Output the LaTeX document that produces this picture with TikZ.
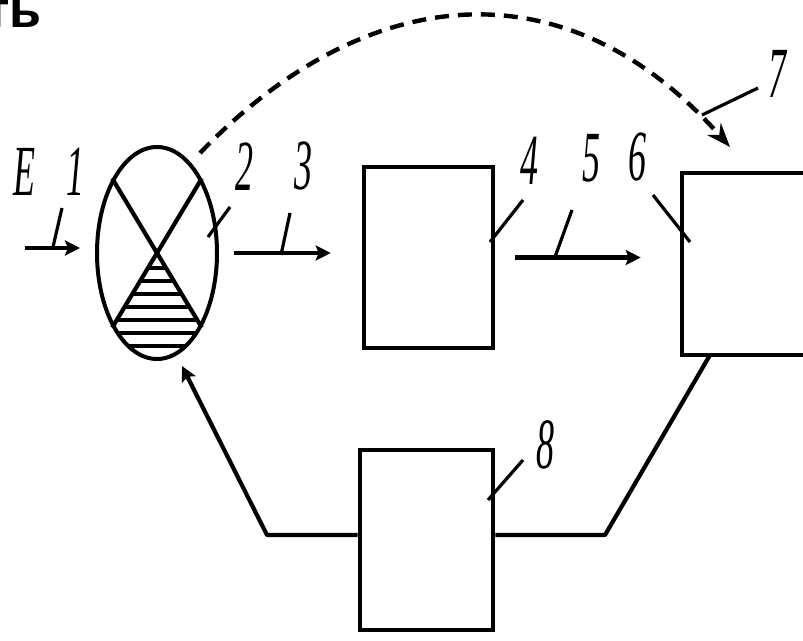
\documentclass[tikz,border=0pt]{standalone}
\usepackage{fontspec}
\usepackage{graphicx}
\setmainfont{Liberation Serif}
\newfontfamily\hdfont{Liberation Sans}
\usetikzlibrary{shapes.geometric,arrows.meta}
\tikzset{
  blk/.style={draw, line width=4.6pt, inner sep=0pt},
  conn/.style={line width=4.2pt, -{Stealth[length=15pt,width=15pt,inset=3pt]}},
  wire/.style={line width=4.2pt},
  lead/.style={line width=3.2pt},
  lbl/.style={inner sep=0pt, font=\fontsize{72}{72}\selectfont\itshape},
  dsh/.style={line width=4.4pt, dash pattern=on 14pt off 9pt, -{Stealth[length=24pt,width=18pt]}},
}
\newcommand\nmb[1]{\scalebox{0.5}[1]{#1}}
\begin{document}
\begin{tikzpicture}[x=1pt,y=-1pt]
\useasboundingbox (0,0) rectangle (803,640);
\clip (0,0) rectangle (803,640);
\fill[white] (0,0) rectangle (803,640);

% heading fragment
\node[font=\hdfont\bfseries\fontsize{52}{52}\selectfont, anchor=base east, inner sep=0pt] (hd) at (42,27) {ть};

% comparator
\node[blk, line width=4pt, ellipse, minimum width=120pt, minimum height=212pt] (c) at (157,253) {};
\draw[wire] (c.121) -- (c.-59);
\draw[wire] (c.59) -- (c.-121);
\begin{scope}
  \clip (157,253) -- (90,363) -- (224,363) -- cycle;
  \clip (157,253) ellipse (60pt and 106pt);
  \foreach \yy in {268,281,294,307,320,333,346}
    \draw[line width=3.4pt] (90,\yy) -- (224,\yy);
\end{scope}

% blocks
\node[blk, rectangle, minimum width=129pt, minimum height=181pt] (b4) at (428.5,257.5) {};
\node[blk, rectangle, minimum width=168pt, minimum height=182pt] (b6) at (766,264) {};
\node[blk, rectangle, minimum width=133pt, minimum height=180pt] (b8) at (426.5,540) {};

% forward path
\coordinate (in1) at (25,248);
\draw[conn, shorten >=15pt] (in1) -- (c.west |- in1);
\draw[conn, shorten <=15pt, shorten >=31pt] (c.east) -- (c.east -| b4.west);
\draw[conn, shorten <=20pt, shorten >=39pt] (b4.east) -- (b4.east -| b6.west);

% feedback path
\coordinate (r1) at (710,355);
\coordinate (r2) at (605,535);
\coordinate (l1) at (267,535);
\coordinate (ct) at (182,366);
\draw[wire, line join=round] (r1) -- (r2) -- (b8.east |- r2);
\draw[conn, line join=round] (b8.west |- l1) -- (l1) -- (ct);

% dashed link
\coordinate (d0) at (200,153);
\coordinate (d1) at (730,147);
\draw[dsh] (d0) .. controls (365,-18) and (565,-39) .. (d1);

% labels
\node[lbl] (tE) at (24,172) {\nmb{E}};
\node[lbl] (t1) at (75,172) {\nmb{1}};
\node[lbl] (t2) at (244,167) {\nmb{2}};
\node[lbl] (t3) at (303,166) {\nmb{3}};
\node[lbl] (t4) at (529,161) {\nmb{4}};
\node[lbl] (t5) at (591,158) {\nmb{5}};
\node[lbl] (t6) at (637,157) {\nmb{6}};
\node[lbl] (t7) at (777,74) {\nmb{7}};
\node[lbl] (t8) at (545,445) {\nmb{8}};

% leader lines
\coordinate (a1) at (62,208);  \coordinate (e1) at (53,247);
\coordinate (a2) at (230,207); \coordinate (e2) at (208,237);
\coordinate (a3) at (290,213); \coordinate (e3) at (281,255);
\coordinate (a4) at (523,200); \coordinate (e4) at (490,242);
\coordinate (a5) at (572,210); \coordinate (e5) at (555,257);
\coordinate (a6) at (653,195); \coordinate (e6) at (690,242);
\coordinate (a7) at (758,88);  \coordinate (e7) at (702,115);
\coordinate (a8) at (523,460); \coordinate (e8) at (488,500);
\foreach \i in {1,...,8} \draw[lead] (a\i) -- (e\i);
\end{tikzpicture}
\end{document}
